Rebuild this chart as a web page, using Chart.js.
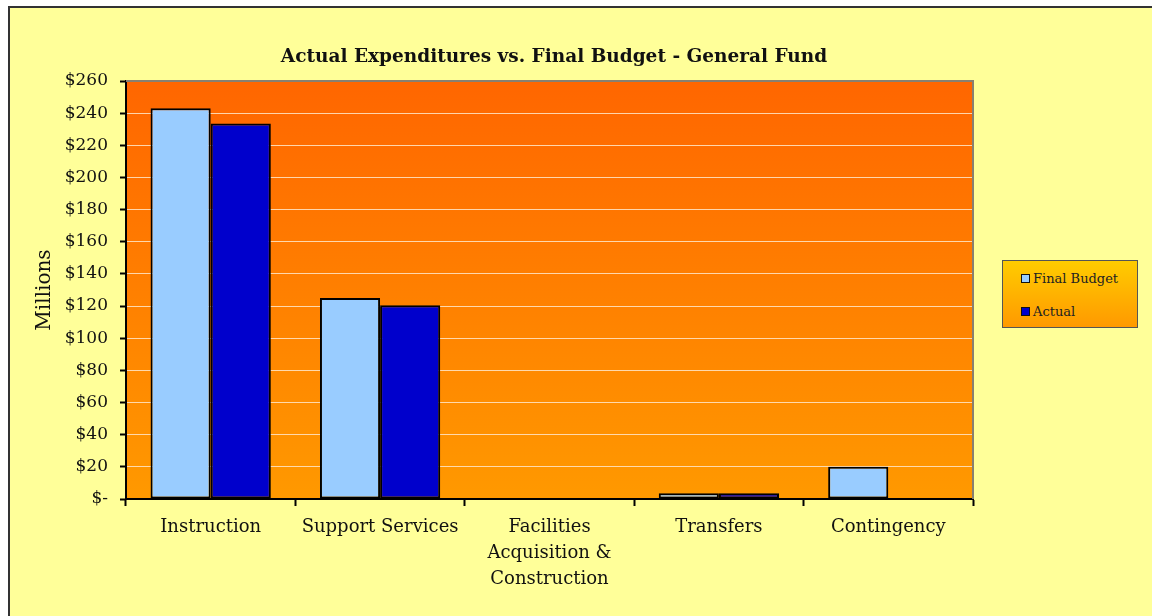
<!DOCTYPE html>
<html>
<head>
<meta charset="utf-8">
<script src="https://cdn.jsdelivr.net/npm/chart.js@4"></script>
<style>
  html, body { margin: 0; padding: 0; background: #fff; overflow: hidden; }
  #frame {
    position: absolute; left: 8px; top: 6px; width: 1200px; height: 700px;
    background: #FFFF99; border: 2px solid #333;
  }
  #wrap { position: absolute; left: 0; top: 0; width: 1152px; height: 616px; }
  #legendBox {
    position: absolute; left: 1002px; top: 260px; width: 134px; height: 66px;
    background: linear-gradient(#FFCC00, #FF9900);
    border: 1px solid #555;
    font-family: "DejaVu Serif", serif; font-size: 13px; color: #222;
  }
  .leg-item { position: absolute; left: 18px; display: flex; align-items: center; }
  .leg-swatch { width: 7px; height: 7px; border: 1.5px solid #111; margin-right: 3px; }
</style>
</head>
<body>
<div id="frame"></div>
<div id="wrap"><canvas id="chart" width="1152" height="616"></canvas></div>
<div id="legendBox"></div>
<script>
// ---------------------------------------------------------------------------
// Data
// ---------------------------------------------------------------------------

const categories   = ['Instruction', 'Support Services', ['Facilities', 'Acquisition &', 'Construction'], 'Transfers', 'Contingency'];
const finalBudget  = [243, 125, 0, 3.5, 20];
const actual       = [233.5, 120.5, 0, 3.5, 0];
const seriesNames  = ['Final Budget', 'Actual'];
const seriesColors = ['#99CCFF', '#0000CC'];

const FONT = '"DejaVu Serif", serif';

// ---------------------------------------------------------------------------
// Plugins
// ---------------------------------------------------------------------------

const plotBackgroundPlugin = {
  id: 'plotBackground',
  beforeDraw(chart) {
    const { ctx, chartArea: a } = chart;
    const g = ctx.createLinearGradient(0, a.top, 0, a.bottom);
    g.addColorStop(0, '#FF6600');
    g.addColorStop(1, '#FF9900');
    ctx.save();
    ctx.fillStyle = g;
    ctx.fillRect(a.left, a.top, a.right - a.left, a.bottom - a.top);
    ctx.restore();
  },
  afterDraw(chart) {
    const { ctx, chartArea: a } = chart;
    ctx.save();
    ctx.strokeStyle = '#888070';
    ctx.lineWidth = 2;
    ctx.beginPath();
    ctx.moveTo(a.left, a.top);
    ctx.lineTo(a.right, a.top);
    ctx.lineTo(a.right, a.bottom);
    ctx.stroke();
    ctx.restore();
  },
};

const titlePlugin = {
  id: 'fixedTitle',
  afterDraw(chart) {
    const { ctx } = chart;
    ctx.save();
    ctx.font = 'bold 18.5px ' + FONT;
    ctx.fillStyle = '#111';
    ctx.textAlign = 'center';
    ctx.textBaseline = 'middle';
    ctx.fillText('Actual Expenditures vs. Final Budget - General Fund', 554, 57);
    ctx.restore();
  },
};

// ---------------------------------------------------------------------------
// Chart
// ---------------------------------------------------------------------------

new Chart(document.getElementById('chart'), {
  type: 'bar',
  data: {
    labels: categories,
    datasets: [
      { label: seriesNames[0], data: finalBudget, backgroundColor: seriesColors[0], borderColor: '#000', borderWidth: 2, borderSkipped: false },
      { label: seriesNames[1], data: actual,      backgroundColor: seriesColors[1], borderColor: '#000', borderWidth: 2, borderSkipped: false },
    ],
  },
  plugins: [plotBackgroundPlugin, titlePlugin],
  options: {
    responsive: false,
    animation: false,
    layout: { padding: { left: 0, top: 81, right: 179, bottom: 0 } },
    datasets: { bar: { categoryPercentage: 0.71, barPercentage: 1.0 } },
    plugins: { legend: { display: false }, tooltip: { enabled: false }, title: { display: false } },
    scales: {
      x: {
        afterFit(s) { s.height = 117; },
        grid: { offset: true, drawOnChartArea: false, tickLength: 7, tickColor: '#000', tickWidth: 2 },
        border: { color: '#000', width: 2 },
        ticks: { color: '#111', padding: 8, maxRotation: 0, autoSkip: false, font: { family: FONT, size: 18, lineHeight: 1.45 } },
      },
      y: {
        min: 0, max: 260,
        afterFit(s) { s.width = 126; },
        grid: { color: 'rgba(255,225,190,0.9)', lineWidth: 1, tickLength: 6, tickColor: '#000', tickWidth: 2 },
        border: { color: '#000', width: 2 },
        ticks: {
          stepSize: 20, color: '#111', padding: 12,
          font: { family: FONT, size: 17 },
          callback: v => v === 0 ? '$-' : '$' + v,
        },
        title: { display: true, text: 'Millions', color: '#111', padding: { top: 33, bottom: 0 }, font: { family: FONT, size: 20 } },
      },
    },
  },
});

// ---------------------------------------------------------------------------
// Legend (box with gradient, built from series arrays)
// ---------------------------------------------------------------------------

document.getElementById('legendBox').innerHTML = seriesNames.map((name, i) => `
  <div class="leg-item" style="top:${i === 0 ? 10 : 43}px">
    <span class="leg-swatch" style="background:${seriesColors[i]}"></span>${name}
  </div>
`).join('');
</script>
</body>
</html>
